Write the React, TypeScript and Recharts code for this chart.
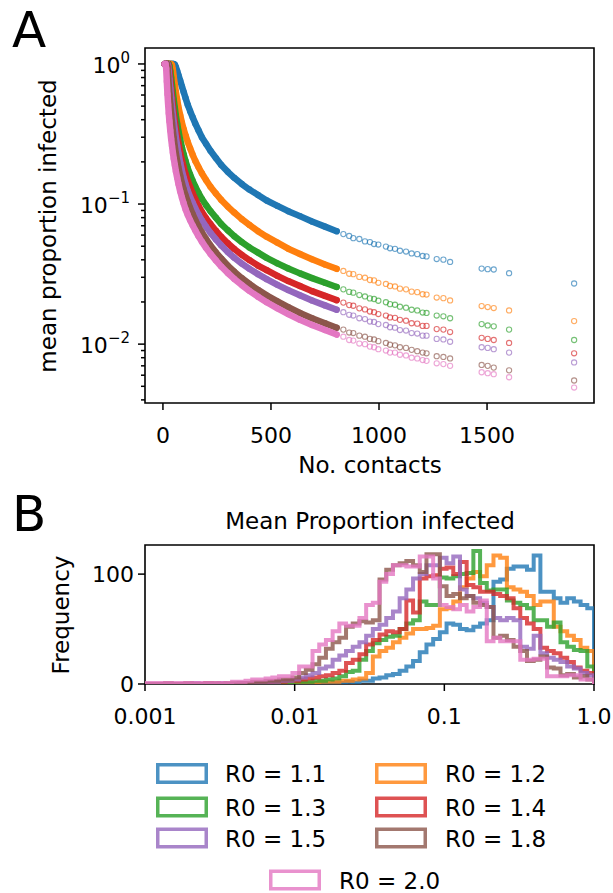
import React from 'react';
import { ScatterChart, Scatter, XAxis, YAxis, ReferenceArea, LineChart, Line } from 'recharts';

const FONT = '"DejaVu Sans", Verdana, sans-serif';
const TICK_SIZE = 22;
const LABEL_SIZE = 23;

const colors = ['#1f77b4', '#ff7f0e', '#2ca02c', '#d62728', '#9467bd', '#8c564b', '#e377c2'];
const r0Labels = ['R0 = 1.1', 'R0 = 1.2', 'R0 = 1.3', 'R0 = 1.4', 'R0 = 1.5', 'R0 = 1.8', 'R0 = 2.0'];

// ---- panel A: mean proportion infected vs number of contacts ----
const contactsDense = [
  8, 12, 15, 18, 21, 24, 27, 30, 34, 38, 42, 46, 50, 55, 60, 66, 72, 80, 88, 96, 105, 115,
  126, 138, 150, 165, 180, 200, 220, 245, 270, 300, 330, 365, 400, 440, 480, 530, 580, 634,
  690, 750, 804,
];
const contactsSparse = [
  835, 862, 881, 909, 935, 958, 977, 997, 1032, 1051, 1074, 1097, 1125, 1151, 1177, 1202,
  1220, 1267, 1298, 1329, 1475, 1503, 1531, 1602, 1903,
];

const denseR11 = [
  1, 1, 1, 1, 1, 1, 1, 1, 1, 1, 1, 1, 1, 0.99, 0.95, 0.89, 0.83, 0.76, 0.69, 0.63, 0.57, 0.51,
  0.46, 0.415, 0.375, 0.335, 0.3, 0.268, 0.24, 0.213, 0.19, 0.17, 0.154, 0.139, 0.127, 0.116,
  0.106, 0.097, 0.089, 0.082, 0.075, 0.069, 0.064,
];
const denseR12 = [
  1, 1, 1, 1, 1, 1, 1, 1, 1, 1, 0.98, 0.91, 0.81, 0.71, 0.63, 0.555, 0.49, 0.43, 0.38, 0.342,
  0.308, 0.277, 0.25, 0.224, 0.203, 0.183, 0.166, 0.148, 0.133, 0.119, 0.107, 0.096, 0.087,
  0.078, 0.071, 0.064, 0.0585, 0.053, 0.048, 0.044, 0.0403, 0.037, 0.0345,
];
const denseR13 = [
  1, 1, 1, 1, 1, 1, 1, 0.97, 0.89, 0.8, 0.71, 0.63, 0.555, 0.485, 0.425, 0.372, 0.33, 0.287,
  0.253, 0.226, 0.202, 0.18, 0.162, 0.146, 0.133, 0.12, 0.109, 0.098, 0.089, 0.08, 0.072,
  0.065, 0.059, 0.0535, 0.049, 0.045, 0.0413, 0.0377, 0.0347, 0.032, 0.0296, 0.0274, 0.0256,
];
const denseR14 = [
  1, 1, 1, 1, 1, 1, 0.96, 0.88, 0.77, 0.67, 0.58, 0.505, 0.445, 0.39, 0.348, 0.305, 0.27,
  0.233, 0.205, 0.183, 0.163, 0.146, 0.132, 0.119, 0.108, 0.097, 0.088, 0.079, 0.072, 0.0645,
  0.0583, 0.0525, 0.0478, 0.0434, 0.0398, 0.0364, 0.0337, 0.0307, 0.0282, 0.026, 0.0239,
  0.0221, 0.0206,
];
const denseR15 = [
  1, 1, 1, 1, 1, 0.97, 0.88, 0.78, 0.67, 0.575, 0.495, 0.435, 0.385, 0.338, 0.298, 0.26,
  0.229, 0.197, 0.173, 0.154, 0.138, 0.124, 0.112, 0.102, 0.093, 0.084, 0.0765, 0.0688,
  0.0623, 0.0559, 0.0506, 0.0455, 0.0414, 0.0376, 0.0345, 0.0316, 0.0291, 0.0265, 0.0243,
  0.0223, 0.0205, 0.0189, 0.0176,
];
const denseR18 = [
  1, 1, 1, 1, 0.95, 0.82, 0.7, 0.605, 0.515, 0.44, 0.38, 0.332, 0.294, 0.257, 0.228, 0.202,
  0.181, 0.159, 0.141, 0.127, 0.115, 0.104, 0.0935, 0.0845, 0.0768, 0.0692, 0.0628, 0.0562,
  0.0507, 0.0452, 0.0408, 0.0364, 0.0329, 0.0296, 0.0269, 0.0244, 0.0223, 0.0202, 0.0184,
  0.0167, 0.0153, 0.0141, 0.0131,
];
const denseR20 = [
  1, 1, 0.93, 0.75, 0.61, 0.515, 0.445, 0.39, 0.335, 0.292, 0.26, 0.233, 0.211, 0.19, 0.171,
  0.154, 0.139, 0.123, 0.111, 0.101, 0.0915, 0.0835, 0.0765, 0.0702, 0.0648, 0.0588, 0.0539,
  0.0485, 0.0441, 0.0396, 0.0358, 0.0322, 0.0292, 0.0264, 0.024, 0.0218, 0.0199, 0.018,
  0.0164, 0.0149, 0.0137, 0.0126, 0.0117,
];

const sparseR11 = [
  0.061, 0.0592, 0.0571, 0.0563, 0.0541, 0.0535, 0.0518, 0.0514, 0.0497, 0.0483, 0.0479,
  0.0464, 0.0458, 0.0444, 0.0439, 0.0426, 0.0423, 0.0405, 0.0401, 0.0386, 0.0346, 0.0343,
  0.0341, 0.0321, 0.0271,
];
const sparseR12 = [
  0.0333, 0.0318, 0.0316, 0.0302, 0.0298, 0.0287, 0.0285, 0.0274, 0.0269, 0.026, 0.0258,
  0.0249, 0.0246, 0.0237, 0.0235, 0.0227, 0.0226, 0.0215, 0.0213, 0.0205, 0.0187, 0.0184,
  0.0181, 0.0174, 0.0146,
];
const sparseR13 = [
  0.0246, 0.0236, 0.0233, 0.0224, 0.0219, 0.0212, 0.021, 0.0204, 0.0199, 0.0193, 0.0191,
  0.0185, 0.0182, 0.0176, 0.0174, 0.0168, 0.0167, 0.016, 0.0158, 0.0153, 0.0139, 0.0136,
  0.0134, 0.0127, 0.0107,
];
const sparseR14 = [
  0.0198, 0.019, 0.0188, 0.018, 0.0177, 0.0171, 0.0169, 0.0164, 0.016, 0.0155, 0.0154,
  0.0149, 0.0147, 0.0141, 0.014, 0.0135, 0.0135, 0.0128, 0.0127, 0.0122, 0.0111, 0.0109,
  0.0107, 0.0102, 0.0086,
];
const sparseR15 = [
  0.0169, 0.0162, 0.016, 0.0153, 0.0151, 0.0145, 0.0144, 0.0139, 0.0137, 0.0132, 0.0131,
  0.0126, 0.0125, 0.012, 0.0119, 0.0115, 0.0115, 0.0109, 0.0108, 0.0104, 0.0095, 0.0094,
  0.0092, 0.0087, 0.0074,
];
const sparseR18 = [
  0.0127, 0.0121, 0.012, 0.0115, 0.0113, 0.0109, 0.0108, 0.0105, 0.0102, 0.0099, 0.0098,
  0.0095, 0.0094, 0.0091, 0.0089, 0.0087, 0.0086, 0.0082, 0.0081, 0.0079, 0.0071, 0.007,
  0.0068, 0.0065, 0.0055,
];
const sparseR20 = [
  0.0113, 0.0107, 0.0106, 0.0101, 0.01, 0.0096, 0.0095, 0.0092, 0.009, 0.0087, 0.0087,
  0.0084, 0.0083, 0.008, 0.0079, 0.0077, 0.0076, 0.0073, 0.0072, 0.007, 0.0063, 0.0062,
  0.0061, 0.0058, 0.0049,
];

const yMajorA = [1, 0.1, 0.01];
const yMinorA = [
  0.9, 0.8, 0.7, 0.6, 0.5, 0.4, 0.3, 0.2, 0.09, 0.08, 0.07, 0.06, 0.05, 0.04, 0.03, 0.02,
  0.009, 0.008, 0.007, 0.006, 0.005, 0.004,
];
const xTicksA = [0, 500, 1000, 1500];

// ---- panel B: histogram of mean proportion infected (log bins 0.001 .. 1) ----
const BIN_COUNT = 67;
const histR11 = [
  0, 0, 0, 0, 0, 0, 0, 0, 0, 0, 0, 0, 0, 0, 0, 0, 0, 0, 0, 0, 0, 0, 0, 0, 0, 0, 0, 0,
  1, 1, 2, 1, 3, 3, 5, 6, 8, 9, 12, 16, 21, 29, 36, 41, 47, 55, 54, 50, 49, 52,
  55, 58, 93, 95, 105, 107, 107, 104, 117, 84, 84, 78, 74, 78, 75, 72, 69,
];
const histR12 = [
  0, 0, 0, 0, 0, 0, 0, 0, 0, 0, 0, 0, 0, 0, 0, 0, 0, 0, 0, 0, 1, 1, 1, 1, 1,
  1, 2, 2, 2, 3, 3, 4, 5, 10, 25, 30, 33, 38, 42, 46, 50, 50, 51, 53, 68, 69, 75, 88, 96, 102,
  98, 108, 117, 115, 88, 86, 84, 80, 72, 75, 75, 52, 48, 44, 40, 33, 30,
];
const histR13 = [
  0, 0, 0, 0, 0, 0, 0, 0, 0, 0, 0, 0, 0, 0, 0, 0, 0, 1, 0, 1, 1, 1, 2, 2, 2,
  3, 3, 4, 5, 7, 11, 12, 22, 30, 37, 40, 43, 44, 50, 55, 58, 75, 72, 72, 97, 96, 98, 100, 101, 121,
  92, 85, 86, 86, 76, 74, 72, 69, 58, 58, 52, 56, 38, 34, 31, 30, 16,
];
const histR14 = [
  0, 0, 0, 0, 0, 0, 0, 0, 0, 1, 0, 0, 0, 0, 1, 0, 1, 1, 1, 2, 2, 3, 3, 4, 5,
  6, 7, 8, 10, 12, 19, 22, 27, 36, 40, 45, 48, 47, 50, 76, 65, 96, 98, 99, 105, 106, 100, 111, 90, 88,
  84, 84, 82, 80, 78, 69, 60, 55, 50, 33, 30, 28, 24, 20, 15, 12, 10,
];
const histR15 = [
  0, 0, 0, 0, 0, 0, 0, 1, 0, 0, 0, 1, 0, 0, 1, 1, 1, 1, 2, 2, 3, 3, 4, 6, 8,
  10, 14, 16, 22, 26, 30, 34, 38, 44, 50, 54, 60, 66, 78, 86, 96, 100, 108, 108, 115, 110, 116, 86, 80, 78,
  74, 70, 60, 58, 60, 58, 34, 32, 44, 28, 24, 22, 20, 16, 14, 10, 8,
];
const histR18 = [
  0, 0, 0, 1, 0, 0, 1, 0, 0, 1, 1, 0, 1, 1, 1, 1, 2, 2, 3, 3, 4, 4, 6, 10, 13,
  18, 24, 32, 38, 42, 52, 55, 57, 56, 58, 95, 104, 108, 110, 112, 108, 102, 118, 118, 89, 80, 82, 78, 80, 74,
  72, 70, 42, 44, 40, 34, 30, 21, 22, 25, 15, 14, 8, 9, 6, 7, 4,
];
const histR20 = [
  1, 1, 1, 1, 1, 1, 1, 1, 1, 1, 1, 1, 1, 2, 2, 3, 4, 4, 5, 6, 7, 7, 10, 16, 16,
  30, 36, 40, 48, 55, 53, 53, 60, 72, 74, 93, 100, 108, 108, 107, 107, 116, 116, 96, 72, 70, 68, 72, 66, 70,
  76, 39, 42, 39, 39, 39, 22, 22, 23, 23, 7, 7, 7, 8, 8, 4, 4,
];
const xTicksB = [0.001, 0.01, 0.1, 1];
const xTickLabelsB = ['0.001', '0.01', '0.1', '1.0'];
const yTicksB = [0, 100];

const denseSets = [denseR11, denseR12, denseR13, denseR14, denseR15, denseR18, denseR20];
const sparseSets = [sparseR11, sparseR12, sparseR13, sparseR14, sparseR15, sparseR18, sparseR20];
const histSets = [histR11, histR12, histR13, histR14, histR15, histR18, histR20];

const toPoints = (xs: number[], ys: number[]) => xs.map((x, i) => ({ x, y: ys[i] }));

const binEdges = Array.from({ length: BIN_COUNT + 1 }, (_, i) => 10 ** (-3 + (3 * i) / BIN_COUNT));
const histRows = binEdges.map((edge, i) => {
  const row: Record<string, number> = { x: edge };
  histSets.forEach((counts, k) => {
    row['r' + k] = i < BIN_COUNT ? counts[i] : 0;
  });
  return row;
});

const X_DOMAIN_A: [number, number] = [-83, 1995];
const Y_DOMAIN_A: [number, number] = [0.0038, 1.3];
const Y_DOMAIN_B: [number, number] = [0, 126.5];

const textStyle = { fontFamily: FONT, fill: '#000' };

const hollowCircle = (color: string, opacity: number) => (props: any) => (
  <circle
    cx={props.cx}
    cy={props.cy}
    r={2.6}
    fill="none"
    stroke={color}
    strokeWidth={1.1}
    strokeOpacity={opacity}
  />
);

const LogYTick = (props: any) => {
  const { x, y, payload } = props;
  const v = payload.value as number;
  const exp = Math.round(Math.log10(v));
  const major = yMajorA.includes(v);
  return (
    <g>
      <line x1={x - (major ? 7 : 4)} x2={x} y1={y} y2={y} stroke="#000" strokeWidth={1.5} />
      {major && (
        <text x={x - 15} y={y + 9} textAnchor="end" fontSize={TICK_SIZE} {...textStyle}>
          10
          <tspan dy={-10} fontSize={15}>
            {exp === 0 ? '0' : '\u2212' + Math.abs(exp)}
          </tspan>
        </text>
      )}
    </g>
  );
};

const BottomTick = (labels?: string[]) => (props: any) => {
  const { x, y, payload, index } = props;
  const label = labels ? labels[index] : String(payload.value);
  return (
    <g>
      <line x1={x} x2={x} y1={y} y2={y + 7} stroke="#000" strokeWidth={1.5} />
      <text x={x} y={y + 40} textAnchor="middle" fontSize={TICK_SIZE} {...textStyle}>
        {label}
      </text>
    </g>
  );
};

const LeftTick = (props: any) => {
  const { x, y, payload } = props;
  return (
    <g>
      <line x1={x - 7} x2={x} y1={y} y2={y} stroke="#000" strokeWidth={1.5} />
      <text x={x - 11} y={y + 8} textAnchor="end" fontSize={TICK_SIZE} {...textStyle}>
        {payload.value}
      </text>
    </g>
  );
};

const legendSlots = [
  { rx: 156, tx: 225, cy: 773.5 },
  { rx: 375, tx: 445, cy: 773.5 },
  { rx: 156, tx: 225, cy: 807 },
  { rx: 375, tx: 445, cy: 807 },
  { rx: 156, tx: 225, cy: 838 },
  { rx: 375, tx: 445, cy: 838 },
  { rx: 269, tx: 339, cy: 880 },
];

const App: React.FC = () => {
  return (
    <div
      style={{
        position: 'absolute',
        left: 0,
        top: 0,
        width: 613,
        height: 893,
        overflow: 'hidden',
        background: '#fff',
      }}
    >
      <div style={{ position: 'absolute', left: 0, top: 0 }}>
        <ScatterChart width={613} height={480} margin={{ top: 48, right: 19, bottom: 0, left: 0 }}>
          <XAxis
            type="number"
            dataKey="x"
            domain={X_DOMAIN_A}
            ticks={xTicksA}
            allowDataOverflow
            height={77}
            axisLine={false}
            tickLine={false}
            tickSize={0}
            tickMargin={0}
            interval={0}
            tick={BottomTick()}
          />
          <YAxis
            type="number"
            dataKey="y"
            scale="log"
            domain={Y_DOMAIN_A}
            ticks={[...yMajorA, ...yMinorA]}
            allowDataOverflow
            width={145}
            axisLine={false}
            tickLine={false}
            tickSize={0}
            tickMargin={0}
            interval={0}
            tick={LogYTick}
          />
          {colors.map((c, k) => (
            <Scatter
              key={'dense' + k}
              data={toPoints(contactsDense, denseSets[k])}
              line={{ stroke: c, strokeWidth: 6.5, strokeLinejoin: 'round', strokeLinecap: 'round' }}
              shape={hollowCircle(c, 0.9)}
              isAnimationActive={false}
            />
          ))}
          {colors.map((c, k) => (
            <Scatter
              key={'sparse' + k}
              data={toPoints(contactsSparse, sparseSets[k])}
              shape={hollowCircle(c, 0.65)}
              isAnimationActive={false}
            />
          ))}
          <ReferenceArea
            x1={X_DOMAIN_A[0]}
            x2={X_DOMAIN_A[1]}
            y1={Y_DOMAIN_A[0]}
            y2={Y_DOMAIN_A[1]}
            fill="none"
            stroke="#000"
            strokeWidth={1.6}
            ifOverflow="visible"
          />
        </ScatterChart>
      </div>

      <div style={{ position: 'absolute', left: 0, top: 480 }}>
        <LineChart width={613} height={260} data={histRows} margin={{ top: 65, right: 19, bottom: 0, left: 0 }}>
          <XAxis
            type="number"
            dataKey="x"
            scale="log"
            domain={[0.001, 1]}
            ticks={xTicksB}
            allowDataOverflow
            height={56}
            axisLine={false}
            tickLine={false}
            tickSize={0}
            tickMargin={0}
            interval={0}
            tick={BottomTick(xTickLabelsB)}
          />
          <YAxis
            type="number"
            domain={Y_DOMAIN_B}
            ticks={yTicksB}
            allowDataOverflow
            width={145}
            axisLine={false}
            tickLine={false}
            tickSize={0}
            tickMargin={0}
            interval={0}
            tick={LeftTick}
          />
          {colors.map((c, k) => (
            <Line
              key={'hist' + k}
              type="stepAfter"
              dataKey={'r' + k}
              stroke={c}
              strokeOpacity={0.8}
              strokeWidth={4}
              dot={false}
              activeDot={false}
              isAnimationActive={false}
            />
          ))}
          <ReferenceArea
            x1={0.001}
            x2={1}
            y1={Y_DOMAIN_B[0]}
            y2={Y_DOMAIN_B[1]}
            fill="none"
            stroke="#000"
            strokeWidth={1.6}
            ifOverflow="visible"
          />
        </LineChart>
      </div>

      <svg
        width={613}
        height={893}
        style={{ position: 'absolute', left: 0, top: 0, pointerEvents: 'none' }}
      >
        <text x={12} y={47} fontSize={50} {...textStyle}>A</text>
        <text x={12} y={531} fontSize={50} {...textStyle}>B</text>
        <text
          transform="translate(56,226) rotate(-90)"
          textAnchor="middle"
          fontSize={LABEL_SIZE}
          {...textStyle}
        >
          mean proportion infected
        </text>
        <text x={370} y={473} textAnchor="middle" fontSize={LABEL_SIZE} {...textStyle}>
          No. contacts
        </text>
        <text x={370} y={529} textAnchor="middle" fontSize={LABEL_SIZE} {...textStyle}>
          Mean Proportion infected
        </text>
        <text
          transform="translate(69,615) rotate(-90)"
          textAnchor="middle"
          fontSize={LABEL_SIZE}
          {...textStyle}
        >
          Frequency
        </text>
        {legendSlots.map((s, k) => (
          <g key={'leg' + k}>
            <rect
              x={s.rx + 1.75}
              y={s.cy - 8.75}
              width={48.5}
              height={17.5}
              fill="none"
              stroke={colors[k]}
              strokeOpacity={0.8}
              strokeWidth={3.5}
            />
            <text x={s.tx} y={s.cy + 8.5} fontSize={LABEL_SIZE} {...textStyle}>
              {r0Labels[k]}
            </text>
          </g>
        ))}
      </svg>
    </div>
  );
};

export default App;
